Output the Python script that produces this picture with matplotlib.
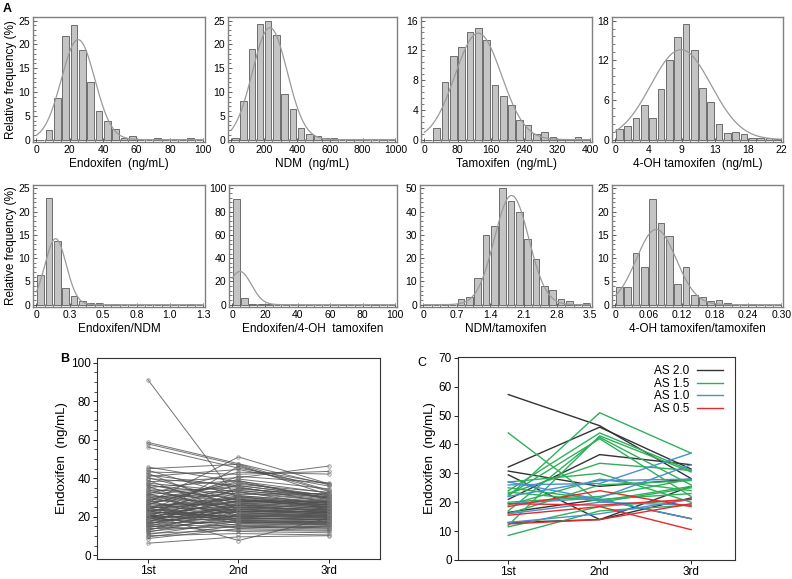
import numpy as np
import matplotlib
matplotlib.use("Agg")
import matplotlib.pyplot as plt
from matplotlib.ticker import MultipleLocator, AutoMinorLocator

plt.rcParams['font.family'] = ['Liberation Sans', 'DejaVu Sans']

# --- Panel A: histograms (relative frequency %, 20 bins each) ---
hist_names = ["Endoxifen  (ng/mL)", "NDM  (ng/mL)", "Tamoxifen  (ng/mL)", "4-OH tamoxifen  (ng/mL)",
              "Endoxifen/NDM", "Endoxifen/4-OH  tamoxifen", "NDM/tamoxifen", "4-OH tamoxifen/tamoxifen"]
hist_xmax = [100, 1000, 400, 22, 1.3, 100, 3.5, 0.30]
hist_vals = [
    [0, 2.0, 8.7, 21.7, 24.0, 18.8, 12.2, 6.1, 3.9, 2.3, 0.3, 0.7, 0, 0, 0.3, 0, 0, 0, 0.3, 0],
    [0.3, 8.2, 19.0, 24.3, 25.0, 22.0, 9.5, 6.4, 2.4, 1.1, 0.7, 0.3, 0.3, 0, 0.2, 0.2, 0, 0, 0.2, 0],
    [0, 1.5, 7.7, 11.3, 12.5, 14.5, 15.0, 13.4, 7.3, 5.8, 4.6, 2.6, 1.9, 0.8, 1.0, 0.3, 0.1, 0.1, 0.3, 0.1],
    [1.6, 2.1, 3.2, 5.2, 3.3, 7.7, 12.0, 15.5, 17.5, 13.5, 7.8, 5.7, 2.4, 1.0, 1.1, 0.9, 0.3, 0.3, 0.3, 0.1],
    [6.4, 23.0, 13.6, 3.5, 1.9, 0.8, 0.3, 0.3, 0, 0.2, 0, 0, 0, 0, 0, 0, 0, 0, 0.2, 0],
    [91.0, 5.5, 1.0, 1.0, 0.5, 0, 0, 0, 0, 0, 0, 0, 0, 0, 0, 0, 0, 0.5, 0, 0],
    [0, 0, 0, 0, 2.6, 3.1, 11.5, 29.8, 34.0, 50.0, 44.7, 39.8, 28.4, 19.6, 8.2, 6.4, 2.6, 1.5, 0, 0.7],
    [3.7, 3.7, 11.1, 8.1, 22.8, 17.6, 14.8, 4.4, 8.0, 2.0, 1.7, 0.8, 1.1, 0.4, 0, 0, 0.2, 0, 0, 0],
]
# fitted normal curve: mean, sd, peak height
fit_mean = [25, 235, 130, 8.7, 0.15, 4.7, 1.85, 0.074]
fit_sd = [10, 106, 56, 4.0, 0.083, 7.0, 0.36, 0.036]
fit_peak = [21, 23.5, 14.3, 13.6, 14.2, 28.6, 47, 16.2]
hist_ymax = [25, 25, 16, 18, 25, 100, 50, 25]
hist_ystep = [5, 5, 4, 6, 5, 20, 10, 5]
hist_xticklabels = [
    ["0", "20", "40", "60", "80", "100"],
    ["0", "200", "400", "600", "800", "1000"],
    ["0", "80", "160", "240", "320", "400"],
    ["0", "4", "9", "13", "18", "22"],
    ["0", "0.3", "0.5", "0.8", "1.0", "1.3"],
    ["0", "20", "40", "60", "80", "100"],
    ["0", "0.7", "1.4", "2.1", "2.8", "3.5"],
    ["0", "0.06", "0.12", "0.18", "0.24", "0.30"],
]

# --- Panel B: endoxifen at three samplings, one line per patient ---
visits = ["1st", "2nd", "3rd"]
b_first = [91.2, 58.6, 57.8, 56.1, 45.8, 44.9, 44.1, 43.2, 42.5, 41.7,
           40.9, 40.3, 39.8, 38.9, 38.1, 37.4, 36.9, 36.2, 35.8, 35.1,
           34.6, 34.0, 33.3, 32.9, 32.2, 31.8, 31.1, 30.6, 30.2, 29.7,
           29.1, 28.8, 28.3, 27.9, 27.4, 27.0, 26.6, 26.1, 25.8, 25.3,
           24.9, 24.5, 24.1, 23.8, 23.4, 23.0, 22.7, 22.3, 22.0, 21.6,
           21.3, 20.9, 20.6, 20.2, 19.9, 19.5, 19.2, 18.9, 18.5, 18.2,
           17.9, 17.5, 17.2, 16.8, 16.5, 16.1, 15.8, 15.4, 15.0, 14.6,
           14.2, 13.8, 13.3, 12.9, 12.4, 11.9, 11.3, 10.7, 10.1, 9.4,
           8.6, 6.2, 23.6, 19.0, 27.2, 21.1, 17.0, 25.1, 31.4, 20.4,
           16.3, 24.3, 22.5, 18.7, 28.6, 20.0, 26.3, 15.2, 23.2, 19.7]
b_second = [28.5, 47.5, 46.8, 45.2, 38.0, 47.2, 30.5, 42.0, 24.0, 35.5,
            44.5, 28.0, 36.2, 21.5, 40.2, 33.0, 26.8, 31.5, 19.5, 38.8,
            29.2, 22.8, 35.0, 27.5, 18.2, 43.1, 25.6, 30.8, 20.7, 34.2,
            24.4, 37.5, 17.3, 28.9, 32.4, 21.9, 26.0, 39.5, 16.5, 30.0,
            23.5, 27.9, 19.0, 33.7, 25.1, 17.8, 29.6, 22.1, 36.8, 20.2,
            26.4, 16.9, 31.0, 24.0, 19.8, 28.3, 15.6, 22.7, 34.8, 18.6,
            25.0, 21.2, 30.4, 17.1, 23.8, 27.0, 15.0, 20.5, 26.2, 18.0,
            22.4, 14.6, 19.3, 24.8, 16.2, 21.0, 13.1, 17.6, 11.2, 15.3,
            13.8, 9.5, 41.0, 46.1, 51.0, 7.6, 32.8, 29.0, 36.0, 18.9,
            23.0, 27.2, 20.0, 25.8, 33.5, 14.0, 38.4, 12.3, 22.9, 28.1]
b_third = [28.0, 36.5, 31.2, 37.1, 29.4, 33.6, 24.8, 43.5, 22.1, 27.3,
           35.8, 26.4, 30.1, 20.5, 46.3, 25.7, 23.9, 32.0, 18.4, 28.8,
           24.2, 21.3, 29.6, 26.0, 17.2, 42.1, 22.6, 27.8, 19.9, 31.5,
           23.1, 30.7, 16.3, 25.2, 28.1, 20.8, 24.6, 34.4, 15.8, 26.9,
           22.3, 27.5, 18.8, 29.0, 21.7, 17.5, 25.9, 20.1, 32.6, 19.4,
           24.0, 16.8, 27.1, 21.9, 18.1, 25.4, 14.9, 22.8, 30.3, 17.7,
           23.5, 19.6, 26.7, 16.0, 21.0, 24.9, 14.2, 19.0, 22.4, 17.0,
           20.7, 13.5, 18.3, 23.7, 15.5, 20.3, 12.4, 16.6, 10.5, 14.0,
           12.9, 10.1, 37.4, 33.1, 37.0, 19.3, 28.5, 26.2, 31.0, 18.6,
           21.4, 25.0, 19.8, 23.3, 29.9, 15.1, 32.3, 11.6, 22.0, 27.6]

# --- Panel C: endoxifen by activity score ---
as_labels = ["AS 2.0", "AS 1.5", "AS 1.0", "AS 0.5"]
as_colors = ["#333333", "#2eb05a", "#4a8fcf", "#e8292c"]
c_as20 = [[57.3, 46.5, 28.2], [32.2, 46.0, 31.5], [21.0, 36.5, 33.0], [30.8, 25.5, 28.0],
          [29.5, 14.0, 25.5], [16.5, 21.0, 14.3], [13.0, 14.0, 21.5]]
c_as15 = [[44.0, 20.0, 25.0], [22.0, 51.0, 37.0], [24.0, 44.0, 31.0], [12.0, 43.0, 30.5],
          [17.0, 42.5, 26.0], [23.0, 33.5, 31.0], [27.0, 30.0, 20.0], [19.0, 28.0, 24.0],
          [16.0, 26.0, 27.5], [20.0, 22.0, 28.0], [25.0, 21.0, 23.0], [11.5, 18.5, 21.0],
          [8.5, 17.0, 19.0], [23.5, 20.5, 25.5], [22.5, 42.0, 22.0]]
c_as10 = [[27.0, 21.0, 14.3], [26.0, 26.5, 37.0], [19.5, 21.5, 33.0], [13.0, 16.0, 21.0],
          [16.0, 20.0, 19.0], [22.0, 27.5, 28.0]]
c_as05 = [[18.5, 24.0, 18.5], [15.5, 18.5, 10.5], [12.5, 14.0, 19.5], [19.5, 19.0, 21.0]]

W, H = 792, 579
fig = plt.figure(figsize=(W / 100, H / 100), dpi=100)


def rect(l, t, r, b):
    return [l / W, 1 - b / H, (r - l) / W, (b - t) / H]


hist_rects = [rect(33, 17, 205, 142), rect(228, 17, 397, 142), rect(421, 17, 592, 142), rect(612, 17, 783, 142),
              rect(33, 185, 205, 307), rect(229, 185, 397, 307), rect(420, 185, 592, 307), rect(612, 185, 783, 307)]

frame_col = "#808080"
for i in range(8):
    ax = fig.add_axes(hist_rects[i])
    vals = hist_vals[i]
    xmax = hist_xmax[i]
    bw = xmax / len(vals)
    centers = (np.arange(len(vals)) + 0.5) * bw
    ax.bar(centers, vals, width=bw * 0.8, color="#c4c4c4", edgecolor="#5a5a5a", linewidth=0.6, zorder=2)
    xx = np.linspace(0, xmax, 300)
    ax.plot(xx, fit_peak[i] * np.exp(-0.5 * ((xx - fit_mean[i]) / fit_sd[i]) ** 2),
            color="#9a9a9a", lw=0.9, zorder=3)
    ymax = hist_ymax[i]
    ax.set_xlim(-0.02 * xmax, 1.01 * xmax)
    ax.set_ylim(-0.02 * ymax, 1.03 * ymax)
    ax.set_xticks(np.linspace(0, xmax, 6))
    ax.set_xticklabels(hist_xticklabels[i])
    ax.xaxis.set_minor_locator(MultipleLocator(bw))
    ax.yaxis.set_major_locator(MultipleLocator(hist_ystep[i]))
    ax.yaxis.set_minor_locator(AutoMinorLocator(5))
    ax.tick_params(which="major", direction="in", length=3, width=0.6, labelsize=7.5, pad=2, color="#444444")
    ax.tick_params(which="minor", direction="in", length=2, width=0.5, color="#444444")
    for s in ax.spines.values():
        s.set_color(frame_col)
        s.set_linewidth(1.0)
    ax.set_xlabel(hist_names[i], fontsize=8.5, labelpad=2)
    if i in (0, 4):
        ax.set_ylabel("Relative frequency (%)", fontsize=8.5, labelpad=1)

fig.text(3 / W, 1 - 12 / H, "A", fontsize=9, fontweight="bold")

# Panel B
axb = fig.add_axes(rect(97, 358, 380, 559))
for a, b, c in zip(b_first, b_second, b_third):
    axb.plot([1, 2, 3], [a, b, c], color="#505050", lw=0.7, alpha=0.8,
             marker="o", ms=2.5, mfc="none", mec="#7a7a7a", mew=0.6)
axb.set_xlim(0.44, 3.56)
axb.set_ylim(-2, 102.4)
axb.set_xticks([1, 2, 3])
axb.set_xticklabels(visits)
axb.yaxis.set_major_locator(MultipleLocator(20))
axb.yaxis.set_minor_locator(AutoMinorLocator(4))
axb.tick_params(which="major", direction="out", length=3, width=0.6, labelsize=8.5, pad=1.5)
axb.tick_params(which="minor", direction="out", length=2, width=0.5)
axb.set_ylabel("Endoxifen  (ng/mL)", fontsize=9.5, labelpad=2)
for s in axb.spines.values():
    s.set_color("#333333")
fig.text(60 / W, 1 - 362 / H, "B", fontsize=9, fontweight="bold")

# Panel C
axc = fig.add_axes(rect(458, 357, 735, 560))
groups = [c_as20, c_as15, c_as10, c_as05]
for g, lab, col in zip(groups, as_labels, as_colors):
    for k, row in enumerate(g):
        axc.plot([1, 2, 3], row, color=col, lw=1.0, label=lab if k == 0 else None)
axc.set_xlim(0.45, 3.48)
axc.set_ylim(0, 70.3)
axc.set_xticks([1, 2, 3])
axc.set_xticklabels(visits)
axc.yaxis.set_major_locator(MultipleLocator(10))
axc.tick_params(direction="out", length=3, width=0.6, labelsize=8.5, pad=1.5)
axc.set_ylabel("Endoxifen  (ng/mL)", fontsize=9.5, labelpad=2)
for s in axc.spines.values():
    s.set_color("#333333")
axc.legend(loc="upper right", frameon=False, markerfirst=False, fontsize=8.5,
           handlelength=2.2, labelspacing=0.05, borderaxespad=0.3, handletextpad=0.6,
           bbox_to_anchor=(0.985, 1.0))
fig.text(417 / W, 1 - 366 / H, "C", fontsize=9)

fig.savefig("out.png", dpi=100)
